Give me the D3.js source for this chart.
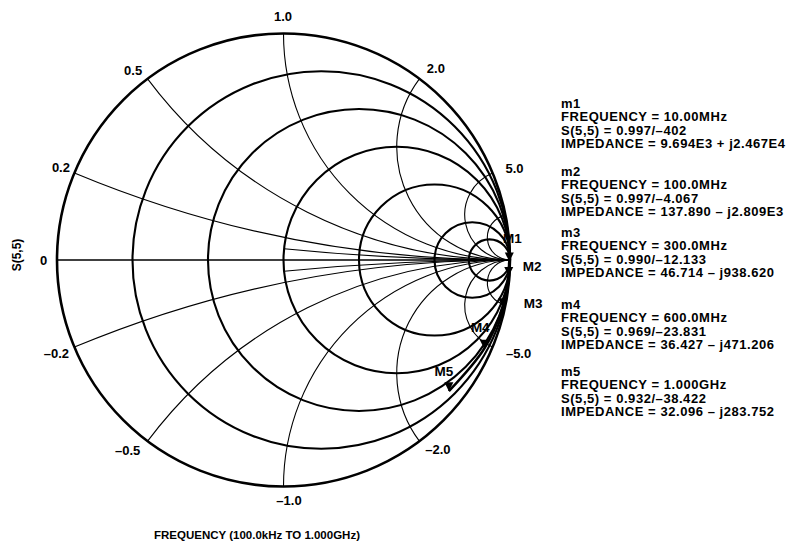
<!DOCTYPE html>
<html>
<head>
<meta charset="utf-8">
<script src="https://cdn.jsdelivr.net/npm/d3@7"></script>
<style>
  html, body { margin: 0; padding: 0; background: #fff; }
  svg text { font-family: "Liberation Sans", Arial, Helvetica, sans-serif; font-weight: bold; fill: #000; }
</style>
</head>
<body>
<svg id="chart" width="792" height="544"></svg>
<script>
// Smith chart grid: normalized resistance circles and reactance arcs
const resistanceCircles = [0.2, 0.5, 1, 2, 5, 10];
const reactanceArcs = [0.2, 0.5, 1, 2, 5, 10];
const innerReactanceArcs = [0.1];      // drawn from the r = 1 circle to the right edge
const innerArcStartR = 1;

// rim labels (normalized reactance) and their text
const rimValues = [0, 0.2, 0.5, 1, 2, 5, -0.2, -0.5, -1, -2, -5];
const rimText = ["0", "0.2", "0.5", "1.0", "2.0", "5.0", "\u20130.2", "\u20130.5", "\u20131.0", "\u20132.0", "\u20135.0"];

// S(5,5) trace, 100 kHz to 1 GHz (magnitude / angle in degrees)
const traceFreqMHz = [0.1, 10, 100, 300, 600, 1000];
const traceMag = [1.000, 0.997, 0.997, 0.990, 0.969, 0.932];
const traceAngle = [-0.004, -0.402, -4.067, -12.133, -23.831, -38.422];

// markers
const markerIds = ["m1", "m2", "m3", "m4", "m5"];
const markerFreqText = ["10.00MHz", "100.0MHz", "300.0MHz", "600.0MHz", "1.000GHz"];
const markerMag = [0.997, 0.997, 0.990, 0.969, 0.932];
const markerAngle = [-0.402, -4.067, -12.133, -23.831, -38.422];
const markerSText = ["0.997/\u2013402", "0.997/\u20134.067", "0.990/\u201312.133", "0.969/\u201323.831", "0.932/\u201338.422"];
const markerZText = ["9.694E3 + j2.467E4", "137.890 \u2013 j2.809E3", "46.714 \u2013 j938.620", "36.427 \u2013 j471.206", "32.096 \u2013 j283.752"];

const svg = d3.select("#chart");
const cx = 283.5, cy = 260, R = 226.5;
const sx = d3.scaleLinear().domain([-1, 1]).range([cx - R, cx + R]);
const sy = d3.scaleLinear().domain([-1, 1]).range([cy + R, cy - R]);
const len = d => d * R;

// reflection coefficient for normalized impedance r + jx
function gamma(r, x) {
  const d = (r + 1) * (r + 1) + x * x;
  return [(r * r + x * x - 1) / d, (2 * x) / d];
}

const grid = svg.append("g").attr("fill", "none").attr("stroke", "#000");

// horizontal axis
grid.append("line")
  .attr("x1", sx(-1)).attr("x2", sx(1)).attr("y1", sy(0)).attr("y2", sy(0))
  .attr("stroke-width", 1.6);

// reactance arcs (thin)
function arcPath(x, rStart) {
  const p0 = gamma(rStart, x);
  const rad = len(1 / Math.abs(x));
  const sweep = x > 0 ? 0 : 1;
  return `M${sx(p0[0])},${sy(p0[1])} A${rad},${rad} 0 0 ${sweep} ${sx(1)},${sy(0)}`;
}
reactanceArcs.forEach(x => {
  [x, -x].forEach(v => grid.append("path").attr("d", arcPath(v, 0)).attr("stroke-width", 1.1));
});
innerReactanceArcs.forEach(x => {
  [x, -x].forEach(v => grid.append("path").attr("d", arcPath(v, innerArcStartR)).attr("stroke-width", 1.1));
});

// resistance circles (thick)
resistanceCircles.forEach(r => {
  grid.append("circle")
    .attr("cx", sx(r / (r + 1))).attr("cy", sy(0))
    .attr("r", len(1 / (r + 1)))
    .attr("stroke-width", 2.1);
});

// outer rim
grid.append("circle").attr("cx", sx(0)).attr("cy", sy(0)).attr("r", len(1)).attr("stroke-width", 2.6);

// rim labels
const rimOffsets = {
  "0": [-13.5, 0], "0.2": [-13.5, -6], "0.5": [-14.5, -8], "1.0": [-0.5, -17], "2.0": [16.5, -10], "5.0": [22, -4.5],
  "\u20130.2": [-18, 6.5], "\u20130.5": [-20, 9.5], "\u20131.0": [5.5, 14], "\u20132.0": [18.5, 8.5], "\u20135.0": [26, 6.5]
};
rimValues.forEach((x, i) => {
  const p = gamma(0, x);
  const off = rimOffsets[rimText[i]];
  svg.append("text")
    .attr("x", sx(p[0]) + off[0]).attr("y", sy(p[1]) + off[1])
    .attr("dy", "0.36em")
    .attr("text-anchor", "middle")
    .attr("font-size", 13)
    .text(rimText[i]);
});

// trace
const toXY = (m, a) => [sx(m * Math.cos(a * Math.PI / 180)), sy(m * Math.sin(a * Math.PI / 180))];
const tracePts = traceMag.map((m, i) => toXY(m, traceAngle[i]));
svg.append("path")
  .attr("d", d3.line().curve(d3.curveCatmullRom.alpha(0.5))(tracePts))
  .attr("fill", "none").attr("stroke", "#000").attr("stroke-width", 2.6)
  .attr("stroke-linejoin", "round");

// markers and their labels
const markerLabelOffsets = [[3, -19], [14, -5], [21, 1], [-4, -17], [-5, -15]];
const markerAnchors = ["middle", "start", "start", "middle", "middle"];
markerMag.forEach((m, i) => {
  const [px, py] = toXY(m, markerAngle[i]);
  svg.append("path")
    .attr("d", `M${px},${py} l-4.5,-9 l9,0 z`)
    .attr("fill", "#000");
  svg.append("text")
    .attr("x", px + markerLabelOffsets[i][0]).attr("y", py + markerLabelOffsets[i][1])
    .attr("text-anchor", markerAnchors[i])
    .attr("font-size", 13.5)
    .text(markerIds[i].toUpperCase());
});

// marker readout
const legendX = 561;
const blockTop = [108, 176, 237, 309, 376];
markerIds.forEach((id, i) => {
  const lines = [
    id,
    `FREQUENCY = ${markerFreqText[i]}`,
    `S(5,5) = ${markerSText[i]}`,
    `IMPEDANCE = ${markerZText[i]}`
  ];
  lines.forEach((t, j) => {
    svg.append("text")
      .attr("x", legendX).attr("y", blockTop[i] + j * 13.3)
      .attr("font-size", 13)
      .attr("letter-spacing", 0.55)
      .text(t);
  });
});

// axis titles
svg.append("text")
  .attr("transform", `translate(21,${cy - 5}) rotate(-90)`)
  .attr("text-anchor", "middle")
  .attr("font-size", 12)
  .attr("fill", "#222")
  .text("S(5,5)");
svg.append("text")
  .attr("x", 257).attr("y", 539)
  .attr("text-anchor", "middle")
  .attr("font-size", 11.5)
  .attr("fill", "#222")
  .text("FREQUENCY (100.0kHz TO 1.000GHz)");
</script>
</body>
</html>
